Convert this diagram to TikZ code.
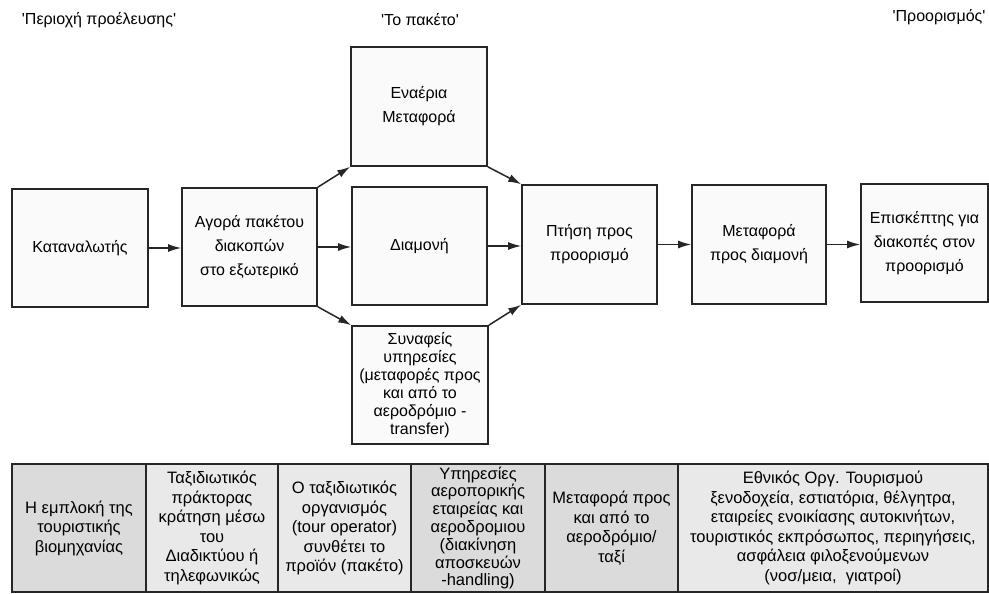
\documentclass[tikz,border=0pt]{standalone}
\usepackage{fontspec}
\setmainfont{Liberation Sans}[Ligatures=TeXOff]
\usetikzlibrary{arrows.meta}
\begin{document}
\begin{tikzpicture}[x=1pt,y=-1pt,
  box/.style={draw=black!85, line width=1.6pt, fill=gray!4, inner sep=0pt, align=center,
    font=\fontsize{16}{24}\selectfont},
  cell/.style={draw=black!85, line width=1.3pt, inner sep=0pt, align=center,
    minimum height=128pt, font=\fontsize{16.5}{19.5}\selectfont},
  darkcell/.style={cell, fill=gray!28},
  lightcell/.style={cell, fill=gray!17},
  arr/.style={line width=1.5pt, draw=black!85, -{Latex[length=13pt,width=8pt]}},
  head/.style={font=\fontsize{16}{18}\selectfont, inner sep=0pt}]
\useasboundingbox (0,0) rectangle (989,594);

% headings
\node[head] (h1) at (99,20) {'Περιοχή προέλευσης'};
\node[head] (h2) at (420,20) {'Το πακέτο'};
\node[head] (h3) at (939,17) {'Προορισμός'};

% boxes
\node[box, minimum width=136pt, minimum height=118pt] (kat) at (80,248) {Καταναλωτής};
\node[box, minimum width=135pt, minimum height=118pt] (ago) at (249.5,247) {Αγορά πακέτου\\διακοπών\\στο εξωτερικό};
\node[box, minimum width=136pt, minimum height=119pt] (ena) at (419,106.5) {Εναέρια\\Μεταφορά};
\node[box, minimum width=135pt, minimum height=118pt] (dia) at (419.5,246) {Διαμονή};
\node[box, minimum width=136pt, minimum height=118pt, font=\fontsize{16}{18}\selectfont] (syn) at (420,385)
  {Συναφείς\\υπηρεσίες\\(μεταφορές προς\\και από το\\αεροδρόμιο -\\transfer)};
\node[box, minimum width=135pt, minimum height=119pt] (pti) at (589.5,244.5) {Πτήση προς\\προορισμό};
\node[box, minimum width=134pt, minimum height=119pt] (met) at (759,244.5) {Μεταφορά\\προς διαμονή};
\node[box, minimum width=127pt, minimum height=118pt] (epi) at (924.5,243) {Επισκέπτης για\\διακοπές στον\\προορισμό};

% arrows
\draw[arr] (kat.east) -- (kat.east -| ago.west);
\draw[arr] (ago.east) -- (ago.east -| dia.west);
\draw[arr] (ago.north east) -- (ena.south west);
\draw[arr] (ago.south east) -- (syn.north west);
\draw[arr] (ena.south east) -- (pti.north west);
\draw[arr] (dia.east) -- (dia.east -| pti.west);
\draw[arr] (syn.north east) -- (pti.south west);
\draw[arr] (pti.east) -- (pti.east -| met.west);
\draw[arr] (met.east) -- (met.east -| epi.west);

% table
\node[darkcell, minimum width=134pt] (c1) at (79,528) {Η εμπλοκή της\\τουριστικής\\βιομηχανίας};
\node[lightcell, minimum width=132pt] (c2) at (212,528) {Ταξιδιωτικός\\πράκτορας\\κράτηση μέσω\\του\\Διαδικτύου ή\\τηλεφωνικώς};
\node[lightcell, minimum width=133pt] (c3) at (344.5,528) {Ο ταξιδιωτικός\\οργανισμός\\(tour operator)\\συνθέτει το\\προϊόν (πακέτο)};
\node[darkcell, minimum width=134pt, font=\fontsize{16.5}{17.8}\selectfont] (c4) at (478,528) {Υπηρεσίες\\αεροπορικής\\εταιρείας και\\αεροδρομιου\\(διακίνηση\\αποσκευών\\-handling)};
\node[darkcell, minimum width=133pt] (c5) at (611.5,528) {Μεταφορά προς\\και από το\\αεροδρόμιο/\\ταξί};
\node[lightcell, minimum width=310pt] (c6) at (833,528) {Εθνικός Οργ. Τουρισμού\\ξενοδοχεία, εστιατόρια, θέλγητρα,\\εταιρείες ενοικίασης αυτοκινήτων,\\τουριστικός εκπρόσωπος, περιηγήσεις,\\ασφάλεια φιλοξενούμενων\\(νοσ/μεια,\ \ γιατροί)};
\end{tikzpicture}
\end{document}
